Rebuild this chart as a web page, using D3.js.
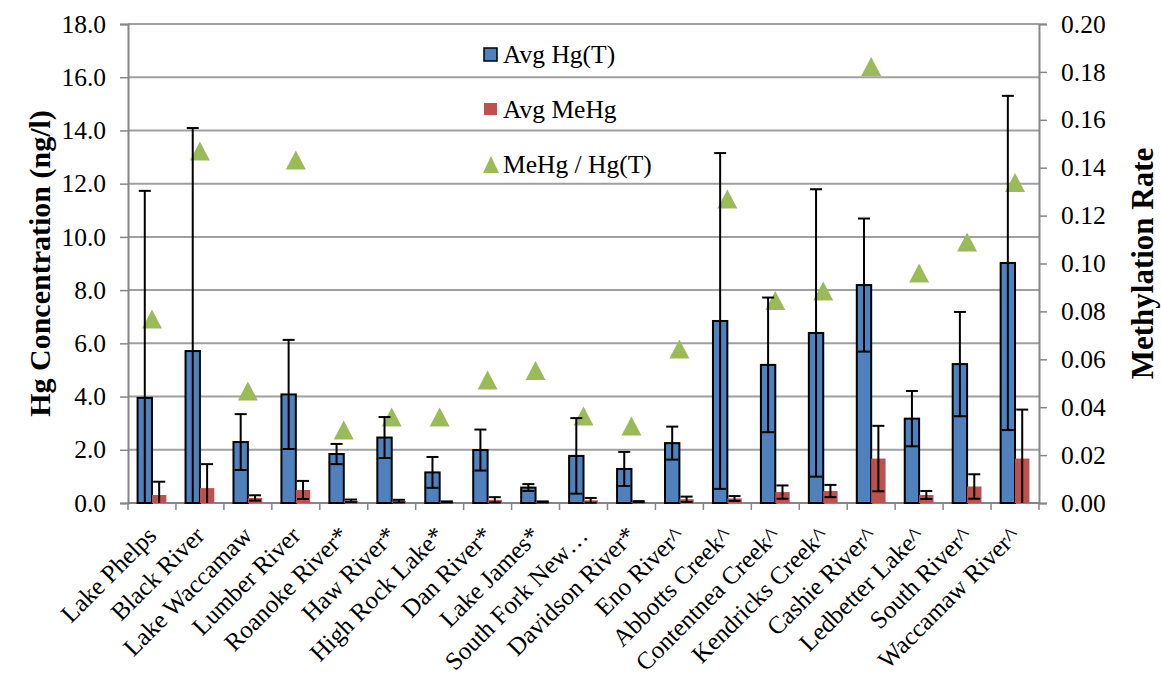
<!DOCTYPE html>
<html>
<head>
<meta charset="utf-8">
<script src="https://cdn.jsdelivr.net/npm/d3@7"></script>
<style>
  html, body { margin: 0; padding: 0; background: #fff; }
  svg { display: block; }
  svg text { font-family: "Liberation Serif", "Times New Roman", serif; }
</style>
</head>
<body>
<svg id="chart" width="1161" height="679"></svg>
<script>
// Sampling sites
const categories = ["Lake Phelps", "Black River", "Lake Waccamaw", "Lumber River", "Roanoke River*",
  "Haw River*", "High Rock Lake*", "Dan River*", "Lake James*", "South Fork New…", "Davidson River*",
  "Eno River^", "Abbotts Creek^", "Contentnea Creek^", "Kendricks Creek^", "Cashie River^",
  "Ledbetter Lake^", "South River^", "Waccamaw River^"];

// Average total mercury (ng/l) and its standard deviation
const avgHgT = [3.95, 5.71, 2.29, 4.08, 1.84, 2.46, 1.15, 1.99, 0.58, 1.77, 1.28, 2.25, 6.84, 5.19, 6.39, 8.19, 3.17, 5.22, 9.02];
const sdHgT  = [7.78, 8.38, 1.05, 2.05, 0.38, 0.77, 0.58, 0.77, 0.13, 1.42, 0.64, 0.62, 6.31, 2.53, 5.40, 2.50, 1.04, 1.96, 6.28];

// Average methylmercury (ng/l) and its standard deviation
const avgMeHg = [0.30, 0.56, 0.19, 0.49, 0.08, 0.07, 0.04, 0.12, 0.04, 0.10, 0.05, 0.14, 0.17, 0.41, 0.45, 1.67, 0.30, 0.62, 1.67];
const sdMeHg  = [0.50, 0.90, 0.10, 0.34, 0.05, 0.05, 0.02, 0.10, 0.02, 0.09, 0.02, 0.10, 0.09, 0.25, 0.23, 1.23, 0.15, 0.46, 1.84];

// Methylation rate, MeHg / Hg(T)
const methylRate = [0.0766, 0.1468, 0.0466, 0.143, 0.0303, 0.0357, 0.0357, 0.0511, 0.0551, 0.0361, 0.0319,
  0.0641, 0.1267, 0.0843, 0.0883, 0.182, 0.0958, 0.1088, 0.1336];

// Axis ticks
const leftTicks = [0, 2, 4, 6, 8, 10, 12, 14, 16, 18];
const rightTicks = [0, 0.02, 0.04, 0.06, 0.08, 0.10, 0.12, 0.14, 0.16, 0.18, 0.20];

const COLORS = { hg: "#4F81BD", me: "#C0504D", rate: "#9BBB59", grid: "#a0a0a0", axis: "#868686" };
const SERIF = "'Liberation Serif', 'Times New Roman', serif";
const FONT = 25.5;
const LABEL_FONT = 25;

const svg = d3.select("#chart");
const plot = { left: 128, right: 1039, top: 24, bottom: 503 };

const x = d3.scaleBand().domain(categories).range([plot.left, plot.right]).padding(0);
const yL = d3.scaleLinear().domain([0, 18]).range([plot.bottom, plot.top]);
const yR = d3.scaleLinear().domain([0, 0.20]).range([plot.bottom, plot.top]);

const step = x.step();
const barW = step * 0.3;
const capW = 12;

// Gridlines
svg.append("g")
  .selectAll("line").data(leftTicks.filter(d => d > 0)).join("line")
  .attr("x1", plot.left).attr("x2", plot.right)
  .attr("y1", d => yL(d)).attr("y2", d => yL(d))
  .attr("stroke", COLORS.grid).attr("stroke-width", 2);

// Left axis
const axisL = svg.append("g").attr("transform", `translate(${plot.left},0)`)
  .call(d3.axisLeft(yL).tickValues(leftTicks).tickFormat(d3.format(".1f")).tickSize(8).tickPadding(14));
// Right axis
const axisR = svg.append("g").attr("transform", `translate(${plot.right},0)`)
  .call(d3.axisRight(yR).tickValues(rightTicks).tickFormat(d3.format(".2f")).tickSize(8).tickPadding(14));
[axisL, axisR].forEach(a => {
  a.attr("font-family", SERIF);
  a.select(".domain").attr("stroke", COLORS.axis).attr("stroke-width", 2);
  a.selectAll(".tick line").attr("stroke", COLORS.axis).attr("stroke-width", 1.5);
  a.selectAll(".tick text").attr("font-size", FONT).attr("fill", "#000").attr("font-family", SERIF);
});

// Bottom axis with ticks at category boundaries
const gx = svg.append("g");
gx.append("line").attr("x1", plot.left).attr("x2", plot.right)
  .attr("y1", plot.bottom).attr("y2", plot.bottom)
  .attr("stroke", COLORS.axis).attr("stroke-width", 2);
gx.selectAll("line.tk").data(d3.range(categories.length + 1)).join("line").attr("class", "tk")
  .attr("x1", i => plot.left + i * step).attr("x2", i => plot.left + i * step)
  .attr("y1", plot.bottom).attr("y2", plot.bottom + 7)
  .attr("stroke", COLORS.axis).attr("stroke-width", 1.5);
gx.selectAll("text").data(categories).join("text")
  .attr("transform", d => `translate(${x(d) + step / 2 + 6},${plot.bottom + 34}) rotate(-45)`)
  .attr("text-anchor", "end")
  .attr("font-family", SERIF)
  .attr("font-size", LABEL_FONT)
  .text(d => d);

// Hg(T) bars
svg.append("g").selectAll("rect").data(categories).join("rect")
  .attr("x", (d) => x(d) + step / 2 - barW)
  .attr("y", (d, i) => yL(avgHgT[i]))
  .attr("width", barW)
  .attr("height", (d, i) => yL(0) - yL(avgHgT[i]))
  .attr("fill", COLORS.hg).attr("stroke", "#000").attr("stroke-width", 2);

// MeHg bars
svg.append("g").selectAll("rect").data(categories).join("rect")
  .attr("x", (d) => x(d) + step / 2)
  .attr("y", (d, i) => yL(avgMeHg[i]))
  .attr("width", barW)
  .attr("height", (d, i) => yL(0) - yL(avgMeHg[i]))
  .attr("fill", COLORS.me);

// Methylation rate markers
const triangle = (cx, cy) => `M${cx},${cy - 10}L${cx + 10},${cy + 9}L${cx - 10},${cy + 9}Z`;
svg.append("g").selectAll("path").data(categories).join("path")
  .attr("d", (d, i) => triangle(x(d) + step / 2, yR(methylRate[i])))
  .attr("fill", COLORS.rate);

// Error bars (± one standard deviation, clipped at the axis)
function errorBars(means, sds, offset) {
  const g = svg.append("g").attr("stroke", "#000").attr("stroke-width", 2);
  categories.forEach((c, i) => {
    const cx = x(c) + step / 2 + offset;
    const hi = means[i] + sds[i];
    const lo = Math.max(0, means[i] - sds[i]);
    g.append("line").attr("x1", cx).attr("x2", cx).attr("y1", yL(hi)).attr("y2", yL(lo));
    g.append("line").attr("x1", cx - capW / 2).attr("x2", cx + capW / 2).attr("y1", yL(hi)).attr("y2", yL(hi));
    if (means[i] - sds[i] > 0)
      g.append("line").attr("x1", cx - capW / 2).attr("x2", cx + capW / 2).attr("y1", yL(lo)).attr("y2", yL(lo));
  });
}
errorBars(avgHgT, sdHgT, -barW / 2);
errorBars(avgMeHg, sdMeHg, barW / 2);

// Legend
const legend = svg.append("g").attr("font-size", FONT).attr("font-family", SERIF);
const lx = 484;
legend.append("rect").attr("x", lx).attr("y", 48).attr("width", 13).attr("height", 13)
  .attr("fill", COLORS.hg).attr("stroke", "#000").attr("stroke-width", 1.5);
legend.append("text").attr("x", 503).attr("y", 63).text("Avg Hg(T)");
legend.append("rect").attr("x", lx).attr("y", 103).attr("width", 13).attr("height", 12)
  .attr("fill", COLORS.me);
legend.append("text").attr("x", 503).attr("y", 118).text("Avg MeHg");
legend.append("path").attr("d", `M${lx + 7},156L${lx + 15},173L${lx - 1},173Z`).attr("fill", COLORS.rate);
legend.append("text").attr("x", 503).attr("y", 173).text("MeHg / Hg(T)");

// Axis titles
const midY = (plot.top + plot.bottom) / 2;
svg.append("text")
  .attr("transform", `translate(50,${midY}) rotate(-90)`)
  .attr("text-anchor", "middle").attr("font-family", SERIF)
  .attr("font-size", 30).attr("font-weight", "bold")
  .text("Hg Concentration (ng/l)");
svg.append("text")
  .attr("transform", `translate(1153,${midY}) rotate(-90)`)
  .attr("text-anchor", "middle").attr("font-family", SERIF)
  .attr("font-size", 31).attr("font-weight", "bold")
  .text("Methylation Rate");
</script>
</body>
</html>
